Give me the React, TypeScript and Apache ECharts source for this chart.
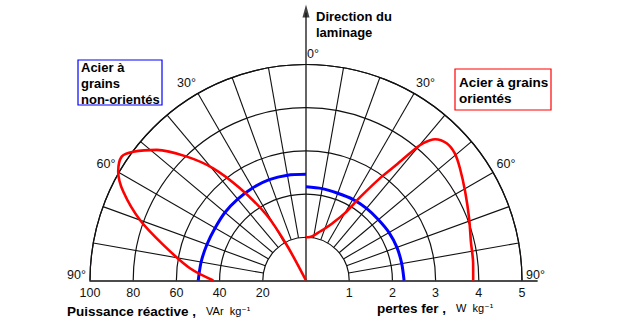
import React, { useEffect, useRef } from "react";
import * as echarts from "echarts";

// ---- data ----
// Iron losses (W/kg), grain-oriented steel, by angle to rolling direction (deg)
const orientedLossAngles = [0, 5, 10, 16, 20, 25, 30, 33, 36, 38, 39.5, 40.5, 42.4, 45.7, 49.5, 53.9, 60.8, 69.2, 76.9, 84, 90];
const orientedLoss = [1.0, 1.01, 1.06, 1.18, 1.28, 1.47, 1.8, 2.3, 2.95, 3.4, 3.9, 4.18, 4.43, 4.55, 4.53, 4.41, 4.22, 4.04, 3.92, 3.89, 3.87];
// Reactive power (VAr/kg), grain-oriented steel
const orientedVarAngles = [27, 28.5, 31, 35.6, 39.6, 43.9, 48.8, 53.3, 56.1, 59.9, 64.1, 70, 76, 84, 90];
const orientedVar = [0, 18.7, 35.4, 52.5, 67.4, 79.6, 91.8, 99.7, 102.8, 100.5, 94, 81.8, 68.1, 54, 42.9];
// Non-oriented steel
const nonOrientedAngles = [0, 10, 20, 30, 40, 50, 60, 70, 80, 90];
const nonOrientedLoss = [2.17, 2.16, 2.15, 2.17, 2.18, 2.19, 2.22, 2.24, 2.25, 2.27];
const nonOrientedVar = [49.2, 49.5, 49.7, 49.5, 49.2, 49.0, 48.6, 48.8, 49.3, 49.9];

// grid
const majorAngles = [10, 20, 30, 40, 50, 60, 70, 80];
const VAR_PER_UNIT = 20; // 1 radial unit = 20 VAr/kg = 1 W/kg

const INK = "#111";
const FONT = "Liberation Sans, Arial, sans-serif";
const CENTER = [306, 280.5];
const R = 216; // px for 5 units
const R_MAX2 = 6.5; // extended data polar (no clipping of overshoot)

function seg(angle: number, r0: number, r1: number, width = 1.1, polarIndex = 0) {
  return {
    type: "line",
    coordinateSystem: "polar",
    polarIndex,
    data: [[r0, angle], [r1, angle]],
    symbol: "none",
    silent: true,
    lineStyle: { color: INK, width },
    z: 1,
  };
}

function curve(vals: number[], angles: number[], sign: number, color: string, width: number, z: number) {
  return {
    type: "line",
    coordinateSystem: "polar",
    polarIndex: 1,
    symbol: "none",
    smooth: 0.3,
    data: angles.map((a, i) => [vals[i], sign * a]),
    lineStyle: { color, width },
    z,
  };
}

export default function App() {
  const ref = useRef<HTMLDivElement>(null);
  useEffect(() => {
    if (!ref.current) return;
    const chart = echarts.init(ref.current, null, { renderer: "svg" });
    const grid: any[] = [];
    majorAngles.forEach((a) => {
      grid.push(seg(a, 1, 5));
      grid.push(seg(-a, 1, 5));
    });
    const lbl = { fontSize: 12.5, fontFamily: FONT, color: INK };
    const option: any = {
      animation: false,
      backgroundColor: "#fff",
      polar: [
        { center: CENTER, radius: R },
        { center: CENTER, radius: (R * R_MAX2) / 5 },
      ],
      angleAxis: [
        {
          polarIndex: 0,
          type: "value",
          min: -90,
          max: 90,
          interval: 30,
          startAngle: 180,
          endAngle: 0,
          clockwise: true,
          axisLine: { lineStyle: { color: INK, width: 1.2 } },
          axisTick: { show: false },
          splitLine: { show: false },
          axisLabel: {
            margin: 4,
            ...lbl,
            formatter: (v: number) => {
              if (v === 0) return "    0°";
              if (Math.abs(v) === 90) return "{u|90°}";
              if (v === -60) return "{d|60°}";
              if (v === 60) return "{e|60°}";
              return Math.abs(v) + "°";
            },
            rich: {
              u: { ...lbl, padding: [0, 0, 12, 0] },
              d: { ...lbl, padding: [18, 0, 0, 0] },
              e: { ...lbl, padding: [6, 0, 0, 0] },
            },
          },
        },
        {
          polarIndex: 1,
          type: "value",
          min: -95,
          max: 95,
          startAngle: 185,
          endAngle: -5,
          clockwise: true,
          axisLine: { show: false },
          axisTick: { show: false },
          axisLabel: { show: false },
          splitLine: { show: false },
        },
      ],
      radiusAxis: [
        {
          polarIndex: 0,
          type: "value",
          min: 0,
          max: 5,
          interval: 1,
          axisLine: { show: false },
          axisTick: { show: false },
          axisLabel: { show: false },
          splitLine: { show: true, lineStyle: { color: INK, width: 1.2 } },
        },
        {
          polarIndex: 1,
          type: "value",
          min: 0,
          max: R_MAX2,
          axisLine: { show: false },
          axisTick: { show: false },
          axisLabel: { show: false },
          splitLine: { show: false },
        },
      ],
      grid: { left: 90, top: 100, width: 447.1, height: 181 },
      xAxis: {
        type: "value",
        min: -5,
        max: 5.35,
        interval: 1,
        axisLine: { show: true, onZero: false, lineStyle: { color: INK, width: 1.6 } },
        axisTick: { show: false },
        splitLine: { show: false },
        axisLabel: {
          margin: 5,
          ...lbl,
          formatter: (v: number) => {
            if (!Number.isInteger(v) || v === 0) return "";
            return v < 0 ? String(-v * VAR_PER_UNIT) : String(v);
          },
        },
      },
      yAxis: { type: "value", min: 0, max: 5, show: false },
      series: [
        ...grid,
        seg(0, 0, 6.2, 1.3, 1),
        {
          type: "scatter",
          coordinateSystem: "polar",
          polarIndex: 1,
          silent: true,
          symbol: "triangle",
          symbolSize: [7, 13],
          data: [[6.24, 0]],
          itemStyle: { color: INK },
          z: 3,
        },
        curve(nonOrientedVar.map((v) => v / VAR_PER_UNIT), nonOrientedAngles, -1, "#0000ff", 3, 4),
        curve(nonOrientedLoss, nonOrientedAngles, 1, "#0000ff", 3, 4),
        curve(orientedVar.map((v) => v / VAR_PER_UNIT), orientedVarAngles, -1, "#ff0000", 2.6, 5),
        curve(orientedLoss, orientedLossAngles, 1, "#ff0000", 2.6, 5),
      ],
      graphic: [
        {
          type: "text",
          left: 316,
          top: 8,
          style: {
            text: "Direction du\nlaminage",
            fill: "#000",
            font: "bold 13px " + FONT,
            lineHeight: 16,
          },
        },
        {
          type: "rect",
          shape: { x: 78, y: 60, width: 84, height: 45 },
          style: { fill: "#fff", stroke: "#0000ff", lineWidth: 1.2 },
        },
        {
          type: "text",
          x: 81,
          y: 59,
          style: {
            text: "Acier à\ngrains\nnon-orientés",
            fill: "#000",
            font: "bold 13px " + FONT,
            lineHeight: 16,
          },
        },
        {
          type: "rect",
          shape: { x: 455, y: 69, width: 96, height: 41 },
          style: { fill: "#fff", stroke: "#ff0000", lineWidth: 1.2 },
        },
        {
          type: "text",
          x: 459,
          y: 74,
          style: {
            text: "Acier à grains\norientés",
            fill: "#000",
            font: "bold 13.5px " + FONT,
            lineHeight: 16,
          },
        },
        {
          type: "text",
          x: 67,
          y: 311,
          style: {
            text: "{b|Puissance réactive ,}   {n|VAr  kg}{s|⁻¹}",
            verticalAlign: "middle",
            rich: {
              b: { font: "bold 13.5px " + FONT, fill: "#000" },
              n: { font: "11px " + FONT, fill: "#000" },
              s: { font: "10px DejaVu Sans, sans-serif", fill: "#000" },
            },
          },
        },
        {
          type: "text",
          x: 377,
          y: 308,
          style: {
            text: "{b|pertes fer ,}   {n|W  kg}{s|⁻¹}",
            verticalAlign: "middle",
            rich: {
              b: { font: "bold 13.5px " + FONT, fill: "#000" },
              n: { font: "11px " + FONT, fill: "#000" },
              s: { font: "10px DejaVu Sans, sans-serif", fill: "#000" },
            },
          },
        },
      ],
    };
    chart.setOption(option);
    return () => chart.dispose();
  }, []);
  return (
    <div
      ref={ref}
      style={{ position: "fixed", left: 0, top: 0, width: 623, height: 329, background: "#fff" }}
    />
  );
}
